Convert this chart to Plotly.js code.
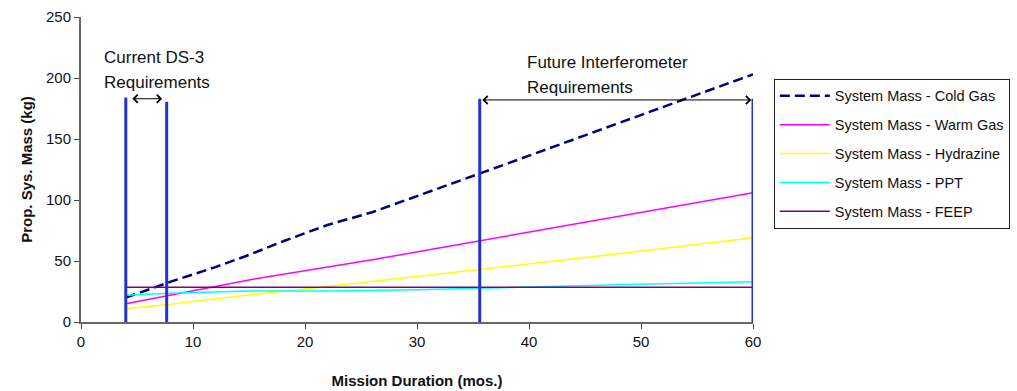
<!DOCTYPE html>
<html>
<head>
<meta charset="utf-8">
<script src="https://cdn.plot.ly/plotly-3.0.1.min.js"></script>
<style>html,body{margin:0;padding:0;background:#fff;}#chart{width:1017px;height:391px;}</style>
</head>
<body>
<div id="chart"></div>
<script>
// ---- data ----
var coldGasX = [4, 8, 12, 15, 18, 22, 26, 30, 36, 45, 60];
var coldGasY = [20, 33, 45, 55, 66, 79.5, 90, 103, 123, 153, 203];
var warmGasX = [4, 8, 15, 26, 36, 48, 60];
var warmGasY = [15, 22, 34.5, 51, 67, 86.5, 106];
var hydrazineX = [4, 8, 12, 16, 20, 26, 32, 36, 48, 60];
var hydrazineY = [11, 14.5, 19, 23, 27.5, 33, 39, 43.5, 56, 69];
var pptX = [4, 8, 15, 22, 30, 36, 48, 60];
var pptY = [22, 23.5, 25.5, 25.5, 26.5, 28, 30.5, 33];
var feepX = [4, 60];
var feepY = [28.5, 28.5];
var seriesNames = ["System Mass - Cold Gas", "System Mass - Warm Gas", "System Mass - Hydrazine", "System Mass - PPT", "System Mass - FEEP"];
// requirement boundaries (mission duration, months) and their drawn heights (kg)
var reqBoundsX = [4, 7.65, 35.6, 60];
var reqBoundsTop = [184, 180.5, 183, 183];
var ds3Arrow = {x0: 4.45, x1: 7.25, y: 183};
var futureArrow = {x0: 35.7, x1: 59.85, y: 182};
var ds3Label = ["Current DS-3", "Requirements"];
var futureLabel = ["Future Interferometer", "Requirements"];
var xTicks = [0, 10, 20, 30, 40, 50, 60];
var yTicks = [0, 50, 100, 150, 200, 250];

var FONT = "Liberation Sans, Arial, sans-serif";
var traces = [];
var xs = [coldGasX, warmGasX, hydrazineX, pptX, feepX];
var ys = [coldGasY, warmGasY, hydrazineY, pptY, feepY];
var styles = [
  {color: "#000080", width: 2.5, dash: "10px,5px"},
  {color: "#ff00ff", width: 1.5},
  {color: "#ffff00", width: 1.5},
  {color: "#00ffff", width: 1.5},
  {color: "#800080", width: 1.5}
];
for (var i = 0; i < 5; i++) {
  traces.push({
    type: "scatter", mode: "lines", x: xs[i], y: ys[i], name: seriesNames[i],
    line: styles[i], legendgroup: "g" + i, cliponaxis: false, hoverinfo: "skip"
  });
}
for (var j = 0; j < reqBoundsX.length; j++) {
  traces.push({
    type: "scatter", mode: "lines", x: [reqBoundsX[j], reqBoundsX[j]], y: [0, reqBoundsTop[j]],
    line: {color: "#2233cc", width: 3}, showlegend: false, cliponaxis: false, hoverinfo: "skip"
  });
}

function label(txt, x, y) {
  return {x: x, y: y, xref: "x", yref: "y", xanchor: "left", yanchor: "middle", align: "left", showarrow: false,
    text: txt, font: {family: FONT, size: 17, color: "#111"}};
}
var annotations = [
  {x: ds3Arrow.x1, y: ds3Arrow.y, ax: ds3Arrow.x0, ay: ds3Arrow.y, xref: "x", yref: "y", axref: "x", ayref: "y",
   text: "", showarrow: true, arrowhead: 4, startarrowhead: 4, arrowside: "end+start", arrowsize: 1.6, startarrowsize: 1.6, arrowwidth: 1, arrowcolor: "#000"},
  {x: futureArrow.x1, y: futureArrow.y, ax: futureArrow.x0, ay: futureArrow.y, xref: "x", yref: "y", axref: "x", ayref: "y",
   text: "", showarrow: true, arrowhead: 4, startarrowhead: 4, arrowside: "end+start", arrowsize: 1.6, startarrowsize: 1.6, arrowwidth: 1, arrowcolor: "#000"},
  label(ds3Label[0], 1.9, 217),
  label(ds3Label[1], 1.9, 196.5),
  label(futureLabel[0], 39.6, 213),
  label(futureLabel[1], 39.6, 192.5)
];

var layout = {
  width: 1017, height: 391,
  margin: {l: 81, r: 264, t: 17, b: 69, autoexpand: false},
  paper_bgcolor: "#fff", plot_bgcolor: "#fff",
  font: {family: FONT, color: "#111"},
  showlegend: true,
  legend: {x: 1.031, y: 0.797, xanchor: "left", yanchor: "top", bordercolor: "#222", borderwidth: 1,
    bgcolor: "#fff", font: {family: FONT, size: 14.5, color: "#111"}, traceorder: "grouped", tracegroupgap: 7, itemwidth: 50},
  xaxis: {range: [0, 60], tickvals: xTicks, ticktext: xTicks.map(String), showgrid: false, zeroline: false,
    showline: true, linecolor: "#666", linewidth: 2, ticks: "outside", ticklen: 5, tickcolor: "#444", tickwidth: 1,
    tickfont: {family: FONT, size: 15, color: "#111"},
    title: {text: "<b>Mission Duration (mos.)</b>", font: {family: FONT, size: 15, color: "#111"}, standoff: 26}},
  yaxis: {range: [0, 250], tickvals: yTicks, ticktext: yTicks.map(String), showgrid: false, zeroline: false,
    showline: true, linecolor: "#666", linewidth: 2, ticks: "outside", ticklen: 5, tickcolor: "#444", tickwidth: 1,
    tickfont: {family: FONT, size: 15, color: "#111"},
    title: {text: "<b>Prop. Sys. Mass (kg)</b>", font: {family: FONT, size: 15, color: "#111"}, standoff: 10}},
  annotations: annotations
};

Plotly.newPlot("chart", traces, layout, {staticPlot: true, displayModeBar: false});
</script>
</body>
</html>
